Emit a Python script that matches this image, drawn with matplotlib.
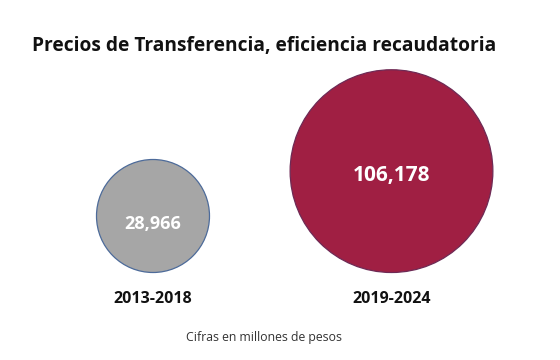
import matplotlib.pyplot as plt
from matplotlib.patches import Circle

periods = ["2013-2018", "2019-2024"]
values = [28966, 106178]
colors = ["#a6a6a6", "#a01f43"]
edge_colors = ["#4d6b9a", "#6e2a55"]

plt.rcParams["font.family"] = ["Open Sans", "DejaVu Sans"]

fig = plt.figure(figsize=(5.6, 3.6), dpi=100)
ax = fig.add_axes([0, 0, 1, 1])
ax.set_xlim(0, 560)
ax.set_ylim(360, 0)
ax.set_aspect("equal")
ax.axis("off")

# circle size grows with the value, all sit on the same baseline
centers_x = [153, 391.5]
baseline = 272.5
scale = 56.5 / values[0] ** 0.45
label_sizes = [13, 15]
label_offsets = [8, 4]

for x, v, c, ec, p, fs, off in zip(centers_x, values, colors, edge_colors,
                                   periods, label_sizes, label_offsets):
    r = scale * v ** 0.45
    cy = baseline - r
    ax.add_patch(Circle((x, cy), r, facecolor=c, edgecolor=ec, linewidth=0.9))
    ax.text(x, cy + off, f"{v:,}", color="white", fontsize=fs, fontweight="bold",
            ha="center", va="center")
    ax.text(x, 299, p, color="#111111", fontsize=11.5, fontweight="bold",
            ha="center", va="center")

ax.text(264, 46, "Precios de Transferencia, eficiencia recaudatoria",
        fontsize=13.8, fontweight="bold", color="#111111", ha="center", va="center")
ax.text(264.5, 337, "Cifras en millones de pesos", fontsize=8.8, color="#333333",
        ha="center", va="center")

fig.savefig("out.png", dpi=100, facecolor="white")
